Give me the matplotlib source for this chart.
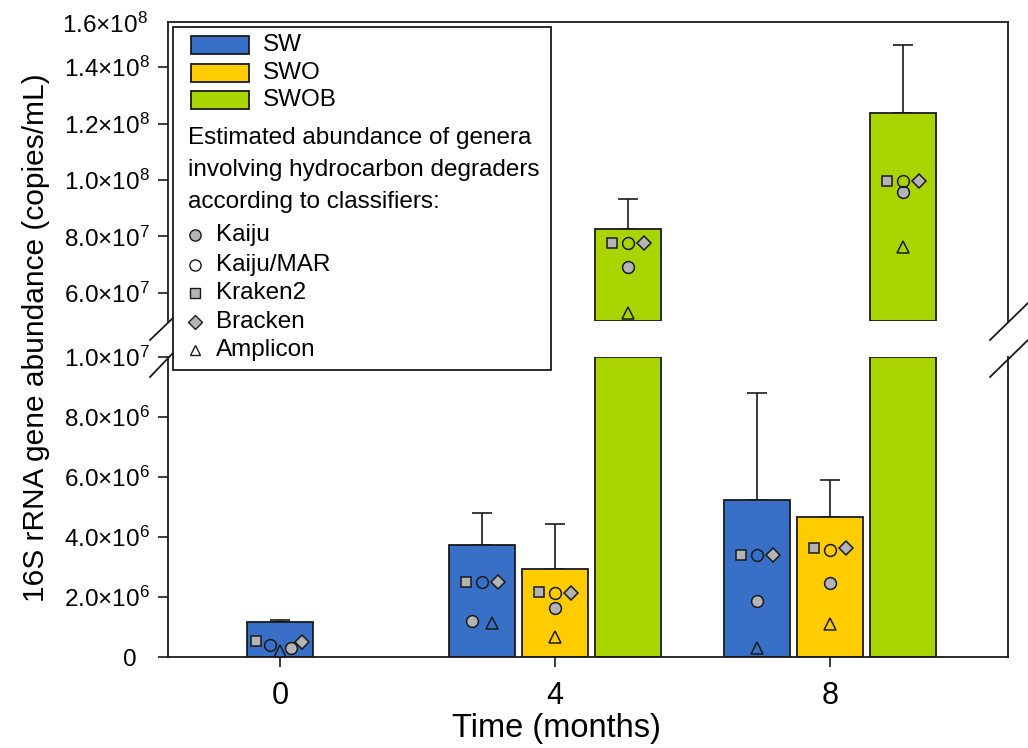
import numpy as np
import matplotlib.pyplot as plt
from matplotlib.patches import Rectangle
from matplotlib.lines import Line2D
from matplotlib.ticker import FuncFormatter

plt.rcParams['font.family'] = ['Liberation Sans', 'DejaVu Sans']
plt.rcParams['mathtext.fontset'] = 'custom'
plt.rcParams['mathtext.rm'] = 'Liberation Sans'
plt.rcParams['mathtext.it'] = 'Liberation Sans:italic'
plt.rcParams['mathtext.bf'] = 'Liberation Sans:bold'

nan = np.nan

# ---- data ----
times = [0, 4, 8]
groups = ['SW', 'SWO', 'SWOB']

mean_sw = [1.18e6, 3.73e6, 5.23e6]
mean_swo = [nan, 2.93e6, 4.67e6]
mean_swob = [nan, 8.26e7, 1.237e8]
err_sw = [0.06e6, 1.07e6, 3.57e6]
err_swo = [nan, 1.50e6, 1.23e6]
err_swob = [nan, 1.06e7, 2.41e7]

# classifier estimates, rows = SW, SWO, SWOB ; cols = 0, 4, 8 months
kaiju = [[0.30e6, 1.20e6, 1.87e6], [nan, 1.63e6, 2.47e6], [nan, 6.91e7, 9.57e7]]
kaiju_mar = [[0.40e6, 2.50e6, 3.40e6], [nan, 2.13e6, 3.57e6], [nan, 7.77e7, 9.96e7]]
kraken2 = [[0.53e6, 2.50e6, 3.40e6], [nan, 2.17e6, 3.63e6], [nan, 7.77e7, 9.96e7]]
bracken = [[0.50e6, 2.50e6, 3.40e6], [nan, 2.15e6, 3.63e6], [nan, 7.77e7, 9.96e7]]
amplicon = [[0.20e6, 1.13e6, 0.30e6], [nan, 0.67e6, 1.10e6], [nan, 5.28e7, 7.62e7]]

# ---- layout ----
W, H = 1028, 748
colors = ['#3870C8', '#FFCC00', '#AAD400']
gray = '#B4B4B4'
edge = '#1a1a1a'
BAR_W = 0.96
STEP = 1.062
LOW_MAX = 1e7
UP_MIN, UP_MAX = 5e7, 1.56e8

# horizontal nudges of the symbols inside each bar (months)
dx_kaiju = [[0.16, -0.15, 0], [0, 0, 0], [0, 0, 0]]
dx_kaiju_mar = [[-0.15, 0, 0], [0, 0, 0], [0, 0, 0]]
dx_kraken2 = [[-0.35, -0.23, -0.23], [0, -0.23, -0.23], [0, -0.23, -0.23]]
dx_bracken = [[0.32, 0.23, 0.23], [0, 0.23, 0.23], [0, 0.23, 0.23]]
dx_amplicon = [[0, 0.15, 0], [0, 0, 0], [0, 0, 0]]

classifiers = [
    ('Kaiju', kaiju, dx_kaiju, 'o', gray, 8.5),
    ('Kaiju/MAR', kaiju_mar, dx_kaiju_mar, 'o', 'none', 8.5),
    ('Kraken2', kraken2, dx_kraken2, 's', gray, 7),
    ('Bracken', bracken, dx_bracken, 'D', gray, 7),
    ('Amplicon', amplicon, dx_amplicon, '^', 'none', 8),
]

means = np.array([mean_sw, mean_swo, mean_swob])
errs = np.array([err_sw, err_swo, err_swob])

# bars present at a time point are centred on its tick
xpos = np.full(means.shape, nan)
for j, t in enumerate(times):
    present = [i for i in range(len(groups)) if not np.isnan(means[i, j])]
    n = len(present)
    for k, i in enumerate(present):
        xpos[i, j] = t + (k - (n - 1) / 2) * STEP


def px(x, y):
    return x / W, 1 - y / H


def sci(v, pos=None):
    if v == 0:
        return '0  '
    e = int(np.floor(np.log10(v)))
    return r'$\mathregular{%.1f{\times}10^{%d}}$' % (v / 10**e, e)


fig = plt.figure(figsize=(W / 100, H / 100), dpi=100)
ax_up = fig.add_axes([168 / W, 1 - 321 / H, 840 / W, 299 / H])
ax_lo = fig.add_axes([168 / W, 1 - 657 / H, 840 / W, 300 / H])

for i, g in enumerate(groups):
    m, e, x = means[i], errs[i], xpos[i]
    ok = ~np.isnan(m)
    ax_lo.bar(x[ok], np.minimum(m[ok], LOW_MAX), width=BAR_W, color=colors[i],
              edgecolor=edge, linewidth=1.3, zorder=2)
    low = ok & (m <= LOW_MAX)
    ax_lo.errorbar(x[low], m[low], yerr=[np.zeros(low.sum()), e[low]], fmt='none',
                   ecolor=edge, elinewidth=1.2, capsize=7, capthick=1.2, zorder=1.5)
    hi = ok & (m > UP_MIN)
    ax_up.bar(x[hi], m[hi] - UP_MIN, bottom=UP_MIN, width=BAR_W, color=colors[i],
              edgecolor=edge, linewidth=1.3, zorder=2)
    ax_up.errorbar(x[hi], m[hi], yerr=[np.zeros(hi.sum()), e[hi]], fmt='none',
                   ecolor=edge, elinewidth=1.2, capsize=7, capthick=1.2, zorder=1.5)

for name, vals, dxs, mk, fc, ms in classifiers:
    vals = np.array(vals)
    dxs = np.array(dxs)
    for i in range(len(groups)):
        for j in range(len(times)):
            v = vals[i, j]
            if np.isnan(v):
                continue
            ax = ax_up if v > UP_MIN else ax_lo
            ax.plot(xpos[i, j] + dxs[i, j], v, marker=mk, ms=ms, mfc=fc, mec=edge,
                    mew=1.1, ls='none', clip_on=False, zorder=5)

for ax in (ax_up, ax_lo):
    ax.set_xlim(-1.63, 10.59)
    for s in ax.spines.values():
        s.set_linewidth(1.3)
        s.set_color(edge)
    ax.tick_params(axis='y', direction='out', length=7, width=1.2, labelsize=17.5,
                   pad=6, right=False, color=edge)
    ax.yaxis.set_major_formatter(FuncFormatter(sci))

ax_up.set_ylim(UP_MIN, UP_MAX)
ax_up.set_yticks(np.arange(6e7, 1.41e8, 2e7))
ax_up.spines['bottom'].set_visible(False)
ax_up.tick_params(axis='x', bottom=False, labelbottom=False)
ax_up.text(-0.0245, 0.99, sci(1.6e8), transform=ax_up.transAxes, ha='right',
           va='center', fontsize=17.5)

ax_lo.set_ylim(0, LOW_MAX)
ax_lo.set_yticks(np.arange(0, 1.01e7, 2e6))
ax_lo.spines['top'].set_visible(False)
ax_lo.set_xticks(times)
ax_lo.tick_params(axis='x', direction='out', length=7, width=1.2, labelsize=22,
                  pad=10, top=False, color=edge)

# axis break marks
for (x0, y0, x1, y1) in [(150, 340, 173, 318), (150, 377, 173, 353),
                         (990, 340, 1028, 303), (990, 377, 1028, 340)]:
    a, b = px(x0, y0)
    c, d = px(x1, y1)
    fig.add_artist(Line2D([a, c], [b, d], color=edge, lw=1.3))

fig.text(*px(36, 338), '16S rRNA gene abundance (copies/mL)', rotation=90,
         ha='center', va='center', fontsize=21.5)
fig.text(*px(556, 728), 'Time (months)', ha='center', va='center', fontsize=23.5)

# legend box
lx, ly = px(173, 370)
fig.add_artist(Rectangle((lx, ly), 378 / W, 343 / H, transform=fig.transFigure,
                         facecolor='white', edgecolor=edge, lw=1.3, zorder=10))
for i, (g, yc) in enumerate(zip(groups, [45, 73, 100])):
    rx, ry = px(191, yc + 9)
    fig.add_artist(Rectangle((rx, ry), 58 / W, 18 / H, transform=fig.transFigure,
                             facecolor=colors[i], edgecolor=edge, lw=1.3, zorder=11))
    fig.text(*px(263, yc), g, ha='left', va='center', fontsize=17.5, zorder=12)
for line, yc in zip(['Estimated abundance of genera',
                     'involving hydrocarbon degraders',
                     'according to classifiers:'], [138, 170, 202]):
    fig.text(*px(188, yc), line, ha='left', va='center', fontsize=17.5, zorder=12)
for (name, vals, dxs, mk, fc, ms), yc in zip(classifiers, [235, 265, 293, 322, 350]):
    mx, my = px(195, yc)
    fig.add_artist(Line2D([mx], [my], marker=mk, ms=ms * 0.95,
                          mfc=fc if fc != 'none' else 'white',
                          mec=edge, mew=1.0, ls='none', zorder=12))
    fig.text(*px(216, yc), name, ha='left', va='center', fontsize=17.5, zorder=12)

fig.savefig('out.png', dpi=100)
